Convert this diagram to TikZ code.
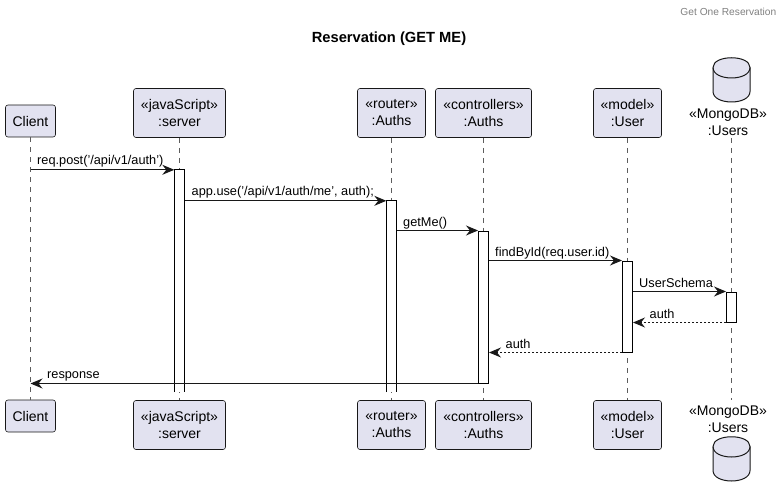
\documentclass[tikz,border=0pt]{standalone}
\usepackage{fontspec}
\setmainfont{Liberation Sans}
\usetikzlibrary{arrows.meta}
\definecolor{partfill}{HTML}{E2E2F0}
\definecolor{partline}{HTML}{181818}
\tikzset{
    part/.style={draw=partline,line width=.6pt,fill=partfill,rounded corners=2.5pt,inner sep=0,align=center,font=\fontsize{14}{17}\selectfont},
    dbname/.style={inner sep=0,align=center,font=\fontsize{14}{17}\selectfont},
    life/.style={draw=partline!70,line width=.6pt,dash pattern=on 5pt off 5pt},
    act/.style={draw=black,line width=1pt,fill=white,minimum width=10pt,inner sep=0},
    actopen/.style={fill=white,minimum width=10pt,inner sep=0},
    msg/.style={draw=partline,line width=1pt,-{Stealth[length=12pt,width=10pt,inset=4pt]}},
    ret/.style={msg,dash pattern=on 2pt off 2pt},
    msgtext/.style={anchor=base west,inner sep=0,font=\fontsize{12.75}{15}\selectfont}
}
\newcommand{\dbicon}[1]{%
    \draw[draw=partline,line width=1pt,fill=partfill,shift={(731.5,#1)}] (-18.5,-12) .. controls (-18.5,-25) and (18.5,-25) .. (18.5,-12) -- (18.5,12) .. controls (18.5,26) and (-18.5,26) .. (-18.5,12) -- cycle;
    \draw[draw=partline,line width=1pt,shift={(731.5,#1)}] (-18.5,-12) .. controls (-18.5,2) and (18.5,2) .. (18.5,-12);
}
\begin{document}
\begin{tikzpicture}[x=1pt,y=-1pt]
    \useasboundingbox (0,0) rectangle (784,497);
    \node[anchor=east,inner sep=0,text=black!50,font=\fontsize{10.2}{12}\selectfont] (header) at (776.5,12) {Get One Reservation};
    \node[inner sep=0,font=\bfseries\fontsize{14.7}{17}\selectfont] (title) at (389,38.5) {Reservation (GET ME)};

    % top row
    \node[part,minimum width=50pt,minimum height=32pt] (clientTop) at (30.5,121) {Client};
    \node[part,minimum width=92pt,minimum height=49pt] (serverTop) at (179.5,113) {«javaScript»\\:server};
    \node[part,minimum width=68pt,minimum height=49pt] (routerTop) at (391.5,113) {«router»\\:Auths};
    \node[part,minimum width=96pt,minimum height=49pt] (ctrlTop) at (483.5,113) {«controllers»\\:Auths};
    \node[part,minimum width=68pt,minimum height=49pt] (modelTop) at (627.5,113) {«model»\\:User};
    \dbicon{79.5}
    \node[dbname] (usersTop) at (728,122) {«MongoDB»\\:Users};
    \coordinate (usersLifeTop) at (731.5,138);

    % bottom row
    \node[part,minimum width=50pt,minimum height=32pt] (clientBot) at (30.5,416) {Client};
    \node[part,minimum width=92pt,minimum height=49pt] (serverBot) at (179.5,425) {«javaScript»\\:server};
    \node[part,minimum width=68pt,minimum height=49pt] (routerBot) at (391.5,425) {«router»\\:Auths};
    \node[part,minimum width=96pt,minimum height=49pt] (ctrlBot) at (483.5,425) {«controllers»\\:Auths};
    \node[part,minimum width=68pt,minimum height=49pt] (modelBot) at (627.5,425) {«model»\\:User};
    \node[dbname] (usersBot) at (728,419) {«MongoDB»\\:Users};
    \coordinate (usersLifeBot) at (731.5,400);
    \dbicon{458.5}

    % lifelines
    \draw[life] (clientTop) -- (clientBot);
    \draw[life] (serverTop) -- (serverBot);
    \draw[life] (routerTop) -- (routerBot);
    \draw[life] (ctrlTop) -- (ctrlBot);
    \draw[life] (modelTop) -- (modelBot);
    \draw[life] (usersLifeTop) -- (usersLifeBot);

    % activations
    \node[actopen,minimum height=222pt] (actServer) at (179.5,281) {};
    \draw[line width=1pt] (actServer.south west) -- (actServer.north west) -- (actServer.north east) -- (actServer.south east);
    \node[actopen,minimum height=191pt] (actRouter) at (391.5,296.5) {};
    \draw[line width=1pt] (actRouter.south west) -- (actRouter.north west) -- (actRouter.north east) -- (actRouter.south east);
    \node[act,minimum height=152pt] (actCtrl) at (483.5,307) {};
    \node[act,minimum height=91pt] (actModel) at (627.5,306.5) {};
    \node[act,minimum height=30pt] (actUsers) at (731.5,307) {};

    % messages
    \draw[msg] (clientTop |- actServer.north) -- (actServer.north west);
    \node[msgtext] (m1) at (37,165) {req.post('/api/v1/auth')};
    \draw[msg] (actServer.east |- actRouter.north) -- (actRouter.north west);
    \node[msgtext] (m2) at (191.5,196) {app.use('/api/v1/auth/me', auth);};
    \draw[msg] (actRouter.east |- actCtrl.north) -- (actCtrl.north west);
    \node[msgtext] (m3) at (403,226) {getMe()};
    \draw[msg] (actCtrl.east |- actModel.north) -- (actModel.north west);
    \node[msgtext] (m4) at (495,256) {findById(req.user.id)};
    \draw[msg] (actModel.east |- actUsers.north) -- (actUsers.north west);
    \node[msgtext] (m5) at (639,287) {UserSchema};
    \draw[ret] (actUsers.south west) -- (actModel.east |- actUsers.south);
    \node[msgtext] (m6) at (649.5,318) {auth};
    \draw[ret] (actModel.south west) -- (actCtrl.east |- actModel.south);
    \node[msgtext] (m7) at (505.5,348) {auth};
    \draw[msg] (actCtrl.south west) -- (clientTop |- actCtrl.south);
    \node[msgtext] (m8) at (47,378) {response};
\end{tikzpicture}
\end{document}
